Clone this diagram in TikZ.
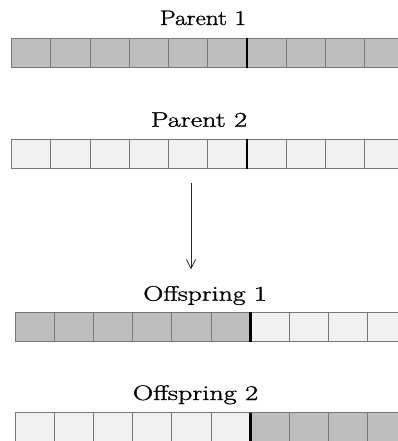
\documentclass[tikz,border=0pt]{standalone}
\usepackage{graphicx}
\usepackage{fontspec}
\newfontfamily\lblfont[FakeBold=1.2]{Latin Modern Roman}
\usetikzlibrary{arrows.meta}
\definecolor{dark}{HTML}{BEBEBE}
\definecolor{light}{HTML}{F1F1F1}
\definecolor{edge}{HTML}{787878}
\begin{document}
\begin{tikzpicture}[x=1pt,y=-1pt,
  cell/.style={draw=edge, line width=1pt, minimum width=39.2pt, minimum height=29.4pt, inner sep=0pt, outer sep=0pt, anchor=north west},
  divider/.style={line width=2.6pt, black},
  lbl/.style={anchor=base, font=\lblfont\fontsize{21}{24}\selectfont, inner sep=0pt},
  arr/.style={-{Straight Barb[length=9pt,width=9pt]}, line width=0.8pt, draw=black!85}]
\useasboundingbox (0,0) rectangle (398,441);
\clip (0,0) rectangle (398,441);
% Parent 1
\foreach \i in {1,...,10} \node[cell, fill=dark] (p1c\i) at ({11.7+(\i-1)*39.2}, 38.3) {};
\draw[divider] (p1c6.north east) -- (p1c6.south east);
\node[lbl] (lp1) at (203,25) {\scalebox{1.2}[1]{Parent 1}};
% Parent 2
\foreach \i in {1,...,10} \node[cell, fill=light] (p2c\i) at ({11.7+(\i-1)*39.2}, 139.3) {};
\draw[divider] (p2c6.north east) -- (p2c6.south east);
\node[lbl] (lp2) at (199,126.7) {\scalebox{1.34}[1]{Parent 2}};
% Arrow
\coordinate (a1) at (191,182.7);
\coordinate (a2) at (191,269.3);
\draw[arr] (a1) -- (a2);
% Offspring 1
\foreach \i in {1,...,6} \node[cell, fill=dark] (o1c\i) at ({15+(\i-1)*39.2}, 312.3) {};
\foreach \i in {7,...,10} \node[cell, fill=light] (o1c\i) at ({15+(\i-1)*39.2}, 312.3) {};
\draw[divider] (o1c6.north east) -- (o1c6.south east);
\node[lbl] (lo1) at (205,300.7) {\scalebox{1.32}[1]{Offspring 1}};
% Offspring 2
\foreach \i in {1,...,6} \node[cell, fill=light] (o2c\i) at ({15+(\i-1)*39.2}, 412.7) {};
\foreach \i in {7,...,10} \node[cell, fill=dark] (o2c\i) at ({15+(\i-1)*39.2}, 412.7) {};
\draw[divider] (o2c6.north east) -- (o2c6.south east);
\node[lbl] (lo2) at (195.5,400) {\scalebox{1.34}[1]{Offspring 2}};
\end{tikzpicture}
\end{document}
